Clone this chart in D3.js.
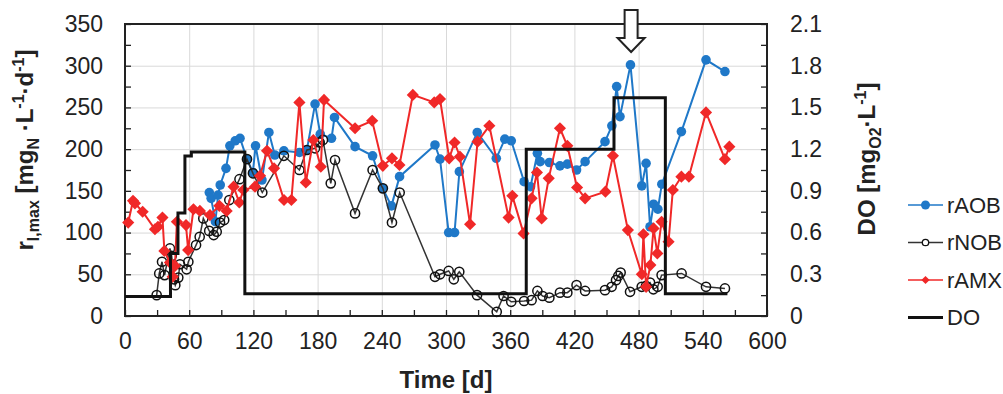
<!DOCTYPE html>
<html>
<head>
<meta charset="utf-8">
<script src="https://cdn.jsdelivr.net/npm/d3@7"></script>
<style>
  body { margin: 0; background: #fff; }
  text { font-family: "Liberation Sans", Arial, sans-serif; fill: #222; }
  .grid line { stroke: #d9d9d9; stroke-width: 1; }
  .grid path { display: none; }
  .axis path { display: none; }
  .axis line { stroke: #222; stroke-width: 1.3; }
  .axis text { font-size: 23px; }
</style>
</head>
<body>
<svg id="chart" width="1003" height="394"></svg>
<script>
// values (day, rate in mgN/L/d, DO in mgO2/L)
const aobDays = [78.8, 80.5, 84.5, 87, 89, 94.4, 98, 103, 107.5, 114, 119.5, 122, 128, 134.5, 140, 148.5, 163, 170, 177.6, 182.5, 193, 195.8, 215, 231.4, 240.8, 249, 256.6, 289.7, 294.4, 302.5, 308, 312.5, 329.2, 347, 355, 361, 373, 379, 385.4, 388, 396.6, 406.5, 413.4, 422, 430, 448.6, 455, 459.5, 462.6, 472.4, 483, 487, 490.7, 494, 498, 501.7, 520, 543, 560.7];
const aobRates = [148, 141, 113, 145, 157, 177, 204, 210, 213, 188, 172, 204, 163, 220, 193, 198, 196, 199, 254, 218, 213, 238, 203, 192, 153, 132, 167, 205, 188, 100, 100, 173, 220, 189, 212, 210, 161, 155, 195, 185, 184, 180, 182, 175, 185, 209, 228, 275, 239, 301, 156, 183, 107, 134, 128, 158, 221, 307, 293];

const nobDays = [29.6, 32, 34.6, 37, 42, 43.6, 45.8, 47, 49.8, 51.4, 57.6, 59.2, 66.4, 69.8, 73.2, 78.7, 82.9, 85.7, 88.8, 92.7, 97.5, 107, 114, 119.6, 128.3, 148.5, 163, 170, 177.6, 182, 185, 192.3, 196.3, 215, 231.4, 241, 249.5, 256.7, 289.7, 294.4, 302.5, 307.3, 312.4, 329, 347.4, 353.8, 361, 373, 380, 385.4, 390.3, 396.6, 406.5, 413.4, 422, 430, 448.6, 454.8, 458.9, 461, 463.2, 472, 482.9, 486.9, 490.7, 493.8, 497.8, 501.5, 520.2, 543, 560.7];
const nobRates = [25, 51, 65, 49, 81, 72, 44, 37, 46, 62, 56, 65, 85, 95, 117, 102, 97, 101, 112, 115, 139, 164, 188, 171, 148, 192, 175, 199, 201, 208, 211, 159, 187, 123, 175, 153, 112, 148, 47, 50, 54, 44, 53, 25, 5, 24, 17, 18, 19, 30, 24, 22, 28, 28, 37, 30, 31, 35, 43, 48, 52, 29, 35, 36, 40, 32, 35, 49, 51, 35, 33];

const amxDays = [3, 7.5, 9.3, 16.5, 28, 30.8, 35, 36.8, 42, 44.6, 46.7, 48.5, 57, 59, 64, 70, 79.4, 88.2, 95, 101.5, 106.8, 110.6, 121.5, 126.2, 132.7, 139.3, 148.6, 155.5, 163, 169, 176, 183, 186, 215, 231, 241, 249.5, 256.5, 269, 289, 294.4, 303, 308, 313, 322.5, 329.5, 340.5, 358.5, 362, 372.5, 380, 385, 389.4, 396, 406.5, 413.4, 422.5, 430, 449, 456, 470, 483, 484.5, 487, 491, 494, 497.5, 501.5, 508, 512, 520, 527, 543, 560.7, 564.8];
const amxRates = [112, 138, 135, 125, 104, 107, 118, 78, 64, 47, 60, 113, 109, 79, 128, 126, 121, 132, 126, 155, 136, 151, 155, 168, 198, 177, 139, 139, 256, 160, 211, 179, 259, 225, 234, 180, 189, 181, 265, 256, 260, 189, 208, 191, 110, 209, 228, 118, 144, 99, 141, 172, 117, 165, 225, 204, 154, 141, 149, 192, 103, 50, 98, 35, 61, 105, 75, 113, 89, 151, 167, 167, 244, 188, 203];

const doDays = [0, 42.5, 49.5, 56, 62, 112, 375, 457, 505, 563];
const doLevels = [0.14, 0.45, 0.74, 1.15, 1.18, 0.16, 1.2, 1.57, 0.16, 0.16];

const xTicks = [0, 60, 120, 180, 240, 300, 360, 420, 480, 540, 600];
const xMinorTicks = [30, 90, 150, 210, 270, 330, 390, 450, 510, 570];
const yTicks = [0, 50, 100, 150, 200, 250, 300, 350];
const yMinorTicks = [25, 75, 125, 175, 225, 275, 325];
const doTicks = [0, 0.3, 0.6, 0.9, 1.2, 1.5, 1.8, 2.1];
const doMinorTicks = [0.15, 0.45, 0.75, 1.05, 1.35, 1.65, 1.95];
const arrowDay = 473;

const blue = '#1f78c8', red = '#f02828', grey = '#333';

const svg = d3.select('#chart');
const plotLeft = 125, plotRight = 767, plotTop = 24, plotBottom = 316;

const x = d3.scaleLinear().domain([0, 600]).range([plotLeft, plotRight]);
const y = d3.scaleLinear().domain([0, 350]).range([plotBottom, plotTop]);
const yDo = d3.scaleLinear().domain([0, 2.1]).range([plotBottom, plotTop]);

// grid
svg.append('g').attr('class', 'grid')
    .attr('transform', `translate(0,${plotBottom})`)
    .call(d3.axisBottom(x).tickValues(xTicks).tickSize(-(plotBottom - plotTop)).tickFormat(''));
svg.append('g').attr('class', 'grid')
    .attr('transform', `translate(${plotLeft},0)`)
    .call(d3.axisLeft(y).tickValues(yTicks).tickSize(-(plotRight - plotLeft)).tickFormat(''));

// axes, ticks pointing inwards
svg.append('g').attr('class', 'axis')
    .attr('transform', `translate(0,${plotBottom})`)
    .call(d3.axisBottom(x).tickValues(xTicks.concat(xMinorTicks)).tickSizeInner(-6).tickSizeOuter(0).tickPadding(17)
        .tickFormat(d => (xTicks.includes(d) ? d : '')));
svg.append('g').attr('class', 'axis')
    .attr('transform', `translate(${plotLeft},0)`)
    .call(d3.axisLeft(y).tickValues(yTicks.concat(yMinorTicks)).tickSizeInner(-6).tickSizeOuter(0).tickPadding(22)
        .tickFormat(d => (yTicks.includes(d) ? d : '')));
svg.append('g').attr('class', 'axis')
    .attr('transform', `translate(${plotRight},0)`)
    .call(d3.axisRight(yDo).tickValues(doTicks.concat(doMinorTicks)).tickSizeInner(-6).tickSizeOuter(0).tickPadding(23)
        .tickFormat(d => (doTicks.includes(d) ? d : '')));

svg.append('rect')
    .attr('x', plotLeft).attr('y', plotTop)
    .attr('width', plotRight - plotLeft).attr('height', plotBottom - plotTop)
    .attr('fill', 'none').attr('stroke', '#222').attr('stroke-width', 2);

// series
const rateLine = d3.line().x(d => x(d[0])).y(d => y(d[1]));
const aob = d3.zip(aobDays, aobRates);
const nob = d3.zip(nobDays, nobRates);
const amx = d3.zip(amxDays, amxRates);

svg.append('path').datum(aob).attr('d', rateLine)
    .attr('fill', 'none').attr('stroke', blue).attr('stroke-width', 2);
svg.append('g').selectAll('circle').data(aob).join('circle')
    .attr('cx', d => x(d[0])).attr('cy', d => y(d[1])).attr('r', 4.8).attr('fill', blue);

svg.append('path').datum(nob).attr('d', rateLine)
    .attr('fill', 'none').attr('stroke', grey).attr('stroke-width', 1.5);
svg.append('g').selectAll('circle').data(nob).join('circle')
    .attr('cx', d => x(d[0])).attr('cy', d => y(d[1])).attr('r', 4.6)
    .attr('fill', 'none').attr('stroke', '#111').attr('stroke-width', 1.5);

const diamond = d3.symbol(d3.symbolSquare, 74);
svg.append('path').datum(amx).attr('d', rateLine)
    .attr('fill', 'none').attr('stroke', red).attr('stroke-width', 2);
svg.append('g').selectAll('path').data(amx).join('path')
    .attr('d', diamond)
    .attr('transform', d => `translate(${x(d[0])},${y(d[1])}) rotate(45)`)
    .attr('fill', red);

const doLine = d3.line().x(d => x(d[0])).y(d => yDo(d[1])).curve(d3.curveStepAfter);
svg.append('path').datum(d3.zip(doDays, doLevels)).attr('d', doLine)
    .attr('fill', 'none').attr('stroke', '#111').attr('stroke-width', 3);

// hollow arrow marking the peak
const ax = x(arrowDay);
svg.append('path')
    .attr('d', `M${ax - 6.5},10 H${ax + 6.5} V38 H${ax + 13.5} L${ax},52 L${ax - 13.5},38 H${ax - 6.5} Z`)
    .attr('fill', '#fff').attr('stroke', '#222').attr('stroke-width', 2);

// axis titles
const yTitle = svg.append('text')
    .attr('transform', 'translate(33,150) rotate(-90)')
    .attr('text-anchor', 'middle')
    .style('font-size', '24px').style('font-weight', 'bold');
yTitle.append('tspan').text('r');
yTitle.append('tspan').attr('dy', 6).style('font-size', '16px').text('l,max');
yTitle.append('tspan').attr('dy', -6).text(' [mg');
yTitle.append('tspan').attr('dy', 6).style('font-size', '16px').text('N');
yTitle.append('tspan').attr('dy', -6).text(' ·L');
yTitle.append('tspan').attr('dy', -9).style('font-size', '16px').text('-1');
yTitle.append('tspan').attr('dy', 9).text('·d');
yTitle.append('tspan').attr('dy', -9).style('font-size', '16px').text('-1');
yTitle.append('tspan').attr('dy', 9).text(']');

const doTitle = svg.append('text')
    .attr('transform', 'translate(875,159) rotate(-90)')
    .attr('text-anchor', 'middle')
    .style('font-size', '24px').style('font-weight', 'bold');
doTitle.append('tspan').text('DO [mg');
doTitle.append('tspan').attr('dy', 6).style('font-size', '16px').text('O2');
doTitle.append('tspan').attr('dy', -6).text('·L');
doTitle.append('tspan').attr('dy', -9).style('font-size', '16px').text('-1');
doTitle.append('tspan').attr('dy', 9).text(']');

svg.append('text')
    .attr('x', (plotLeft + plotRight) / 2).attr('y', 388)
    .attr('text-anchor', 'middle')
    .style('font-size', '24px').style('font-weight', 'bold')
    .text('Time [d]');

// legend
const legendItems = [
    { name: 'rAOB', color: blue, marker: 'dot' },
    { name: 'rNOB', color: grey, marker: 'ring' },
    { name: 'rAMX', color: red, marker: 'diamond' },
    { name: 'DO', color: '#111', marker: 'none' },
];
const legend = svg.append('g').attr('transform', 'translate(908,205)');
legendItems.forEach((item, i) => {
    const g = legend.append('g').attr('transform', `translate(0,${i * 37.5})`);
    g.append('line').attr('x1', 0).attr('x2', 35).attr('y1', 0).attr('y2', 0)
        .attr('stroke', item.color).attr('stroke-width', item.marker === 'none' ? 3 : 1.6);
    if (item.marker === 'dot') g.append('circle').attr('cx', 17.5).attr('r', 4.5).attr('fill', item.color);
    if (item.marker === 'ring') g.append('circle').attr('cx', 17.5).attr('r', 3.2)
        .attr('fill', '#fff').attr('stroke', '#111').attr('stroke-width', 1.3);
    if (item.marker === 'diamond') g.append('path')
        .attr('d', d3.symbol(d3.symbolSquare, 34)).attr('transform', 'translate(17.5,0) rotate(45)').attr('fill', item.color);
    g.append('text').attr('x', 39).attr('dy', '0.35em').style('font-size', '22px').text(item.name);
});
</script>
</body>
</html>
